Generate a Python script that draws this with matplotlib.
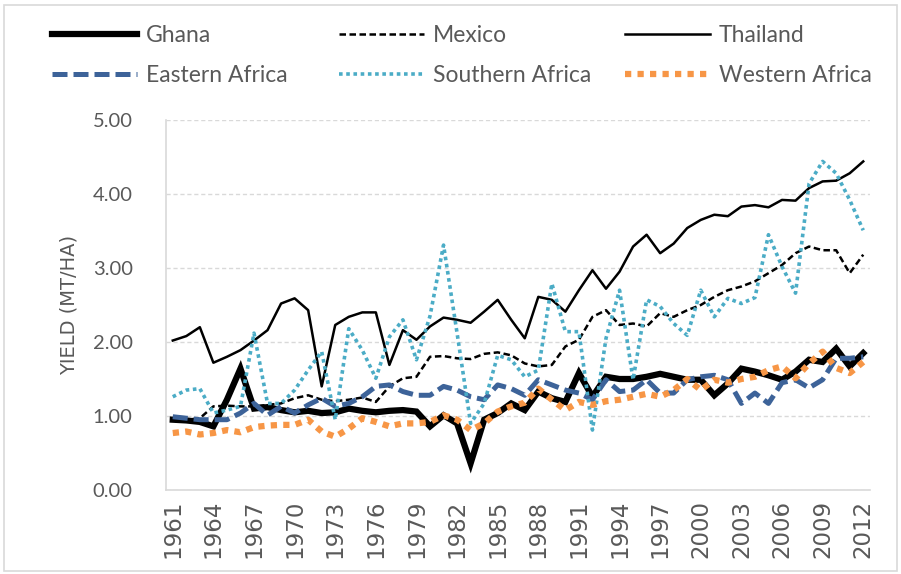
import matplotlib
matplotlib.use("Agg")
import matplotlib.pyplot as plt
from matplotlib.patches import Rectangle
import numpy as np

# ---- data (maize yield, MT/HA) ----
years = list(range(1961, 2013))

ghana = [0.95, 0.94, 0.92, 0.86, 1.22, 1.64, 1.10, 1.12, 1.08, 1.05,
         1.07, 1.04, 1.05, 1.10, 1.07, 1.05, 1.07, 1.08, 1.06, 0.86,
         1.01, 0.90, 0.36, 0.95, 1.04, 1.17, 1.08, 1.33, 1.24, 1.19,
         1.58, 1.26, 1.53, 1.50, 1.50, 1.53, 1.57, 1.53, 1.49, 1.49,
         1.28, 1.44, 1.64, 1.60, 1.55, 1.49, 1.60, 1.76, 1.73, 1.91,
         1.67, 1.85]

mexico = [0.97, 0.95, 0.97, 1.13, 1.14, 1.13, 1.13, 1.15, 1.17, 1.24,
          1.28, 1.22, 1.20, 1.22, 1.25, 1.19, 1.40, 1.51, 1.53, 1.80,
          1.81, 1.78, 1.77, 1.84, 1.86, 1.82, 1.71, 1.67, 1.69, 1.94,
          2.03, 2.34, 2.43, 2.23, 2.25, 2.21, 2.39, 2.34, 2.43, 2.50,
          2.61, 2.70, 2.75, 2.82, 2.93, 3.04, 3.20, 3.29, 3.24, 3.24,
          2.93, 3.18]

thailand = [2.02, 2.08, 2.20, 1.72, 1.80, 1.89, 2.02, 2.16, 2.52, 2.59,
            2.43, 1.40, 2.23, 2.34, 2.40, 2.40, 1.69, 2.16, 2.03, 2.21,
            2.33, 2.30, 2.26, 2.41, 2.57, 2.30, 2.05, 2.61, 2.57, 2.41,
            2.70, 2.97, 2.72, 2.95, 3.29, 3.45, 3.20, 3.33, 3.54, 3.65,
            3.72, 3.70, 3.83, 3.85, 3.82, 3.92, 3.91, 4.08, 4.17, 4.18,
            4.28, 4.44]

eastern = [0.99, 0.97, 0.95, 0.95, 0.95, 1.04, 1.17, 1.01, 1.13, 1.04,
           1.15, 1.24, 1.13, 1.17, 1.26, 1.40, 1.42, 1.33, 1.28, 1.28,
           1.40, 1.35, 1.26, 1.22, 1.42, 1.37, 1.28, 1.49, 1.42, 1.35,
           1.31, 1.22, 1.49, 1.33, 1.35, 1.49, 1.31, 1.31, 1.49, 1.53,
           1.55, 1.49, 1.17, 1.31, 1.17, 1.45, 1.49, 1.38, 1.49, 1.78,
           1.78, 1.80]

southern = [1.26, 1.35, 1.37, 1.04, 1.08, 1.13, 2.12, 1.17, 1.17, 1.35,
            1.62, 1.87, 0.95, 2.18, 1.89, 1.51, 2.07, 2.30, 1.76, 2.35,
            3.31, 2.12, 0.90, 1.17, 1.82, 1.76, 1.53, 1.62, 2.79, 2.14,
            2.14, 0.81, 2.05, 2.70, 1.49, 2.57, 2.48, 2.25, 2.09, 2.70,
            2.34, 2.59, 2.52, 2.60, 3.45, 3.02, 2.66, 4.14, 4.44, 4.28,
            3.92, 3.51]

western = [0.77, 0.79, 0.75, 0.77, 0.81, 0.78, 0.85, 0.87, 0.88, 0.88,
           0.95, 0.79, 0.72, 0.83, 0.97, 0.92, 0.86, 0.90, 0.90, 0.92,
           1.01, 0.95, 0.81, 0.90, 1.06, 1.13, 1.18, 1.37, 1.22, 1.08,
           1.19, 1.15, 1.20, 1.22, 1.26, 1.30, 1.26, 1.35, 1.50, 1.35,
           1.49, 1.45, 1.50, 1.53, 1.62, 1.67, 1.51, 1.71, 1.87, 1.65,
           1.58, 1.73]

W, H = 901, 574
grey = "#595959"

fig = plt.figure(figsize=(W / 100, H / 100), dpi=100)
ax = fig.add_axes([166 / W, 1 - 490 / H, 704 / W, 370 / H])

x = np.arange(len(years))

l_gh, = ax.plot(x, ghana, color="black", lw=4.5, solid_joinstyle="miter")
l_mx, = ax.plot(x, mexico, color="black", lw=1.8, linestyle=(0, (2.6, 1.4)))
l_th, = ax.plot(x, thailand, color="black", lw=1.8)
l_ea, = ax.plot(x, eastern, color="#3d6399", lw=3.6, linestyle=(0, (3, 1.2)))
l_sa, = ax.plot(x, southern, color="#4bacc6", lw=2.6, linestyle=(0, (1, 1)))
l_wa, = ax.plot(x, western, color="#f79646", lw=4.5, linestyle=(0, (1, 1)))

ax.set_xlim(-0.5, len(years) - 0.5)
ax.set_ylim(0, 5)
ax.set_yticks([0, 1, 2, 3, 4, 5])
ax.set_yticklabels([f"{v:.2f}" for v in [0, 1, 2, 3, 4, 5]],
                   fontsize=14.5, color=grey, family=["Lato", "DejaVu Sans"])
ax.set_xticks(x[::3])
ax.set_xticklabels([str(y) for y in years[::3]], rotation=90,
                   fontsize=16.5, color=grey, family="DejaVu Sans")
ax.tick_params(length=0)
ax.tick_params(axis="x", pad=7)
ax.tick_params(axis="y", pad=24)

ax.set_ylabel("YIELD (MT/HA)", fontsize=14, color=grey,
              family="DejaVu Sans", labelpad=10)

ax.grid(axis="y", color="#d9d9d9", lw=1, linestyle=(0, (3, 2)))
ax.set_axisbelow(True)
for s in ["top", "right"]:
    ax.spines[s].set_visible(False)
ax.spines["left"].set_color("#d9d9d9")
ax.spines["bottom"].set_color("#d9d9d9")
ax.spines["left"].set_linewidth(1.2)
ax.spines["bottom"].set_linewidth(1.2)

# legend: three columns placed like Excel
cols = [([l_gh, l_ea], ["Ghana", "Eastern Africa"], 52),
        ([l_mx, l_sa], ["Mexico", "Southern Africa"], 339),
        ([l_th, l_wa], ["Thailand", "Western Africa"], 625)]
for hs, labs, px in cols:
    fig.legend(hs, labs, loc="upper left", bbox_to_anchor=(px / W, 1 - 25 / H),
               frameon=False, borderpad=0, borderaxespad=0,
               handlelength=3.7, handletextpad=0.4, labelspacing=0.85,
               prop={"family": ["Lato", "DejaVu Sans"], "size": 16.5},
               labelcolor=grey)

fig.patches.append(Rectangle((4 / W, 3 / H), 893 / W, 566 / H,
                             transform=fig.transFigure, fill=False,
                             edgecolor="#d9d9d9", lw=1.2))

fig.savefig("out.png", dpi=100)
